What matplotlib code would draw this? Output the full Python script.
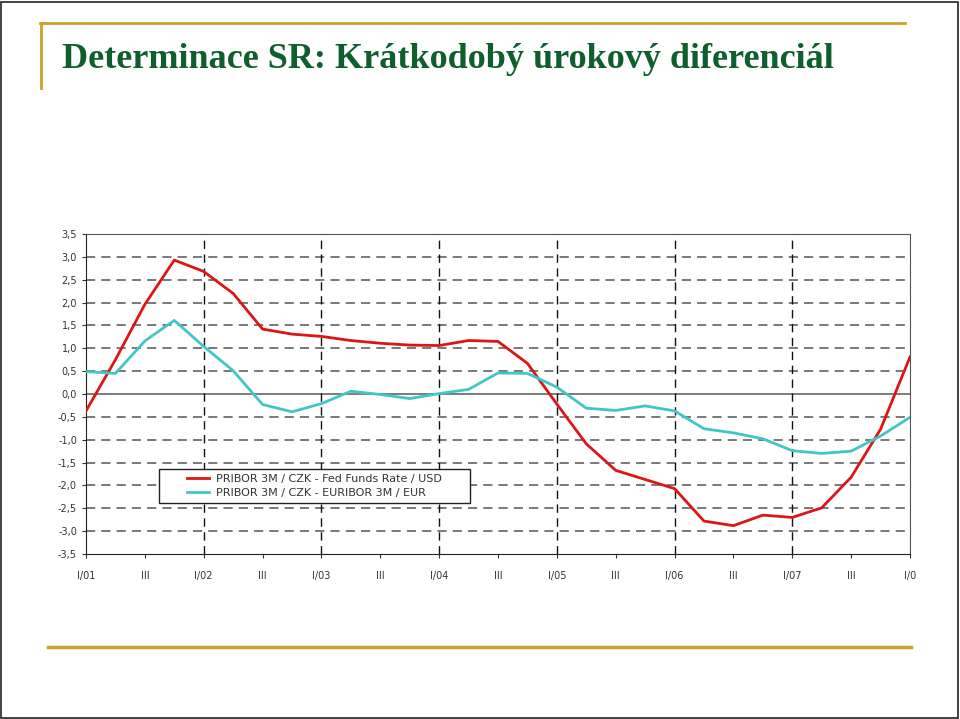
import matplotlib.pyplot as plt
from matplotlib.patches import Rectangle
from matplotlib.lines import Line2D

# quarterly data I/01 .. I/08
usd_diff = [-0.37, 0.75, 1.96, 2.93, 2.68, 2.20, 1.42, 1.31, 1.26, 1.17,
            1.11, 1.07, 1.06, 1.17, 1.15, 0.67, -0.22, -1.09, -1.67, -1.87,
            -2.07, -2.78, -2.88, -2.65, -2.70, -2.49, -1.82, -0.77, 0.81]
eur_diff = [0.49, 0.45, 1.16, 1.61, 1.04, 0.51, -0.23, -0.39, -0.21, 0.06,
            -0.01, -0.10, 0.01, 0.10, 0.46, 0.45, 0.15, -0.31, -0.36, -0.26,
            -0.37, -0.76, -0.85, -0.98, -1.24, -1.30, -1.25, -0.92, -0.51]
x_labels = ['I/01', 'III', 'I/02', 'III', 'I/03', 'III', 'I/04', 'III',
            'I/05', 'III', 'I/06', 'III', 'I/07', 'III', 'I/0']
y_ticks = [-3.5, -3.0, -2.5, -2.0, -1.5, -1.0, -0.5, 0.0, 0.5, 1.0, 1.5, 2.0, 2.5, 3.0, 3.5]
series_names = ['PRIBOR 3M / CZK - Fed Funds Rate / USD',
                'PRIBOR 3M / CZK - EURIBOR 3M / EUR']

fig = plt.figure(figsize=(9.6, 7.19), dpi=100)
W, H = 960, 719

# slide decoration
fig.add_artist(Rectangle((1 / W, 1 / H), 957 / W, 716 / H, transform=fig.transFigure,
                         fill=False, edgecolor='#222222', lw=1.2))
gold = '#c9a227'
fig.add_artist(Line2D([40 / W, 905 / W], [1 - 23 / H, 1 - 23 / H], color=gold, lw=2))
fig.add_artist(Line2D([41 / W, 41 / W], [1 - 23 / H, 1 - 88 / H], color=gold, lw=2))
fig.add_artist(Line2D([48 / W, 911 / W], [1 - 647 / H, 1 - 647 / H], color=gold, lw=2.5))
fig.text(62 / W, 1 - 68 / H, 'Determinace SR: Krátkodobý úrokový diferenciál',
         fontsize=26, family='Liberation Serif', weight='bold', color='#0e5e2e',
         va='baseline')

ax = fig.add_axes([86 / W, 1 - 554 / H, 824 / W, 320 / H])
xs = list(range(len(usd_diff)))
ax.plot(xs, usd_diff, color='#dd1515', lw=2, label=series_names[0], zorder=3)
ax.plot(xs, eur_diff, color='#40c6c6', lw=2, label=series_names[1], zorder=3)

ax.set_xlim(0, 28)
ax.set_ylim(-3.5, 3.5)
ax.set_yticks(y_ticks)
ax.set_yticklabels([f'{v:.1f}'.replace('.', ',') for v in y_ticks])
ax.set_xticks(range(0, 29, 2))
ax.set_xticklabels(x_labels)
ax.tick_params(axis='both', labelsize=7, colors='#333333', length=3, width=0.8)
ax.tick_params(axis='x', pad=9)

for v in y_ticks[1:-1]:
    if v == 0:
        ax.axhline(v, color='#666666', lw=1.2, zorder=1)
    else:
        ax.axhline(v, color='#555555', lw=1.1, dashes=(6, 4), zorder=1)
for q in range(4, 28, 4):
    ax.axvline(q, color='#111111', lw=1, dashes=(6, 4), zorder=1)

ax.spines['left'].set_color('#222222')
ax.spines['bottom'].set_color('#222222')
ax.spines['top'].set_color('#555555')
ax.spines['right'].set_color('#555555')

# legend box with wide side padding
ax.add_patch(Rectangle((0.0886, 0.159), 0.3774, 0.107, transform=ax.transAxes,
                       facecolor='white', edgecolor='#222222', lw=1, zorder=4))
leg = ax.legend(loc='center', bbox_to_anchor=(0.2773, 0.2125), fontsize=8,
                frameon=False, handlelength=2.0, handletextpad=0.6,
                borderpad=0, borderaxespad=0, labelspacing=0.4)
leg.set_zorder(5)
for t in leg.get_texts():
    t.set_color('#333333')

fig.savefig('out.png', dpi=100)
